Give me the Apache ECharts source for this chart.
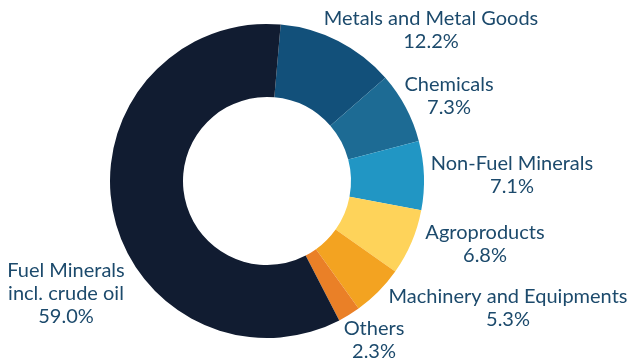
<!DOCTYPE html>
<html>
<head>
<meta charset="utf-8">
<script src="https://cdn.jsdelivr.net/npm/echarts@6/dist/echarts.min.js"></script>
<style>
  html, body { margin: 0; padding: 0; background: #fff; }
  #chart { width: 631px; height: 363px; }
</style>
</head>
<body>
<div id="chart"></div>
<script>
// Export composition by product group (share of total, %)
const categories = [
  'Metals and Metal Goods',
  'Chemicals',
  'Non-Fuel Minerals',
  'Agroproducts',
  'Machinery and Equipments',
  'Others',
  'Fuel Minerals\nincl. crude oil'
];
const shares = [12.2, 7.3, 7.1, 6.8, 5.3, 2.3, 59.0];
const sliceColors = ['#12507a', '#1d6b94', '#2196c4', '#fed35a', '#f3a321', '#ea8027', '#111c31'];

// Label block centres (px) beside each slice
const labelAnchors = [
  [431, 30], [449, 96], [512, 175], [485, 244], [508, 308], [374, 340], [66, 294]
];

const chart = echarts.init(document.getElementById('chart'), null, { renderer: 'canvas' });

chart.setOption({
  animation: false,
  series: [{
    type: 'pie',
    center: [267, 181],
    radius: [84, 157],
    startAngle: 85,
    clockwise: true,
    avoidLabelOverlap: false,
    itemStyle: { borderWidth: 0 },
    label: {
      show: true,
      position: 'outside',
      formatter: p => p.name + '\n' + p.value.toFixed(1) + '%',
      color: '#1c4a6c',
      fontFamily: 'Lato',
      fontSize: 20,
      lineHeight: 23,
      align: 'center'
    },
    labelLine: { show: false },
    labelLayout: params => ({
      x: labelAnchors[params.dataIndex][0],
      y: labelAnchors[params.dataIndex][1],
      align: 'center',
      verticalAlign: 'middle'
    }),
    data: categories.map((c, i) => ({
      name: c,
      value: shares[i],
      itemStyle: { color: sliceColors[i] }
    }))
  }]
});
</script>
</body>
</html>
